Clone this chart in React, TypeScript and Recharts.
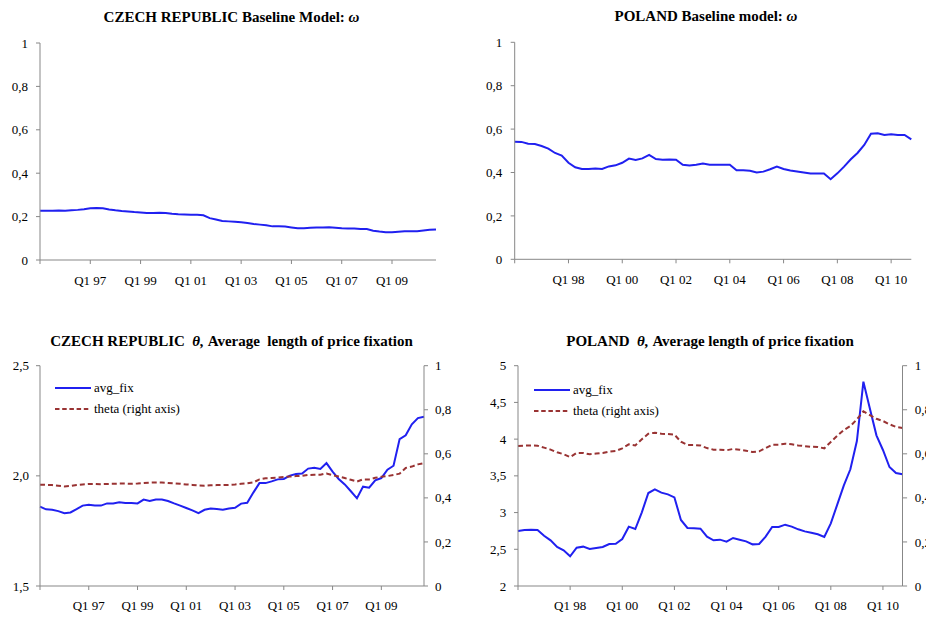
import React from 'react';
import { LineChart, Line, XAxis, YAxis } from 'recharts';

function makeQuarters(startYear: number, n: number): string[] {
  const out: string[] = [];
  for (let i = 0; i < n; i++) {
    const y = startYear + Math.floor(i / 4);
    out.push(`Q${(i % 4) + 1} ${String(y % 100).padStart(2, '0')}`);
  }
  return out;
}

// Categories
const czQuarters = makeQuarters(1995, 64); // Q1 95 .. Q4 10
const plQuarters = makeQuarters(1996, 60); // Q1 96 .. Q4 10
const tickIndexes = [0, 8, 16, 24, 32, 40, 48, 56];

// Czech Republic – baseline model omega
const czOmega = [
  0.227, 0.227, 0.227, 0.228, 0.227, 0.229, 0.231, 0.234, 0.238, 0.24,
  0.238, 0.233, 0.229, 0.226, 0.224, 0.221, 0.219, 0.217, 0.217, 0.218,
  0.217, 0.213, 0.211, 0.21, 0.209, 0.208, 0.206, 0.193, 0.187, 0.18,
  0.178, 0.176, 0.174, 0.17, 0.166, 0.163, 0.16, 0.155, 0.155, 0.154,
  0.15, 0.146, 0.146, 0.149, 0.15, 0.15, 0.151, 0.149, 0.146, 0.145,
  0.145, 0.143, 0.143, 0.135, 0.131, 0.128, 0.128, 0.13, 0.132, 0.132,
  0.133, 0.136, 0.139, 0.141,
];

// Poland – baseline model omega
const plOmega = [
  0.542, 0.541, 0.533, 0.531, 0.522, 0.51, 0.49, 0.478, 0.445, 0.424,
  0.416, 0.416, 0.418, 0.416, 0.428, 0.433, 0.445, 0.464, 0.458, 0.465,
  0.481, 0.462, 0.459, 0.46, 0.459, 0.436, 0.432, 0.436, 0.441, 0.436,
  0.436, 0.436, 0.436, 0.41, 0.41, 0.408, 0.4, 0.404, 0.415, 0.427,
  0.416, 0.409, 0.405, 0.4, 0.395, 0.395, 0.395, 0.369, 0.396, 0.427,
  0.461, 0.49, 0.527, 0.579, 0.581, 0.573, 0.576, 0.573, 0.573, 0.553,
];

// Czech Republic – avg_fix (left) and theta (right)
const czAvgFix = [
  1.86, 1.848, 1.846, 1.84, 1.83, 1.834, 1.849, 1.865, 1.869, 1.865,
  1.865, 1.875, 1.875, 1.88, 1.877, 1.877, 1.875, 1.892, 1.886, 1.893,
  1.893, 1.886, 1.875, 1.865, 1.854, 1.843, 1.831, 1.846, 1.852, 1.849,
  1.846, 1.852, 1.855, 1.874, 1.878, 1.924, 1.967, 1.967, 1.975, 1.984,
  1.986, 2.001, 2.008, 2.011, 2.033, 2.037, 2.031, 2.058, 2.019, 1.986,
  1.961, 1.93, 1.898, 1.951, 1.946, 1.98, 1.99, 2.028, 2.046, 2.167,
  2.184, 2.234, 2.262, 2.268,
];
const czTheta = [
  0.46, 0.459, 0.458, 0.455, 0.452, 0.454, 0.458, 0.461, 0.463, 0.463,
  0.462, 0.463, 0.464, 0.465, 0.465, 0.464, 0.465, 0.467, 0.469, 0.47,
  0.47, 0.468, 0.466, 0.464, 0.461, 0.459, 0.456, 0.455, 0.457, 0.458,
  0.458, 0.459, 0.461, 0.464, 0.466, 0.47, 0.484, 0.489, 0.49, 0.492,
  0.495, 0.497, 0.499, 0.5, 0.504, 0.505, 0.505, 0.511, 0.503, 0.497,
  0.49, 0.482, 0.474, 0.484, 0.484, 0.491, 0.496, 0.499, 0.504, 0.51,
  0.536, 0.542, 0.552, 0.558,
];

// Poland – avg_fix (left) and theta (right)
const plAvgFix = [
  2.749, 2.763, 2.767, 2.763, 2.685, 2.622, 2.531, 2.486, 2.404, 2.522,
  2.536, 2.504, 2.517, 2.531, 2.572, 2.576, 2.64, 2.808, 2.776, 3.003,
  3.266, 3.316, 3.271, 3.248, 3.207, 2.899, 2.79, 2.785, 2.781, 2.672,
  2.622, 2.631, 2.604, 2.654, 2.631, 2.608, 2.567, 2.572, 2.672, 2.803,
  2.803, 2.835, 2.808, 2.772, 2.744, 2.726, 2.704, 2.667, 2.853, 3.112,
  3.371, 3.589, 3.974, 4.782, 4.415, 4.052, 3.852, 3.62, 3.539, 3.521,
];
const plTheta = [
  0.635, 0.637, 0.638, 0.637, 0.628, 0.619, 0.607, 0.598, 0.585, 0.604,
  0.604, 0.598, 0.601, 0.604, 0.61, 0.613, 0.625, 0.643, 0.638, 0.666,
  0.691, 0.696, 0.691, 0.69, 0.687, 0.655, 0.64, 0.64, 0.638, 0.626,
  0.619, 0.619, 0.616, 0.622, 0.619, 0.614, 0.608, 0.611, 0.626, 0.641,
  0.641, 0.646, 0.643, 0.638, 0.635, 0.632, 0.631, 0.625, 0.654, 0.682,
  0.708, 0.726, 0.756, 0.793, 0.776, 0.759, 0.749, 0.734, 0.722, 0.717,
];

const ticks01 = [0, 0.2, 0.4, 0.6, 0.8, 1];
const czLeftTicks = [1.5, 2, 2.5];
const plLeftTicks = [2, 2.5, 3, 3.5, 4, 4.5, 5];

const czOmegaData = czQuarters.map((q, i) => ({ i, q, omega: czOmega[i] }));
const plOmegaData = plQuarters.map((q, i) => ({ i, q, omega: plOmega[i] }));
const czThetaData = czQuarters.map((q, i) => ({ i, q, avg_fix: czAvgFix[i], theta: czTheta[i] }));
const plThetaData = plQuarters.map((q, i) => ({ i, q, avg_fix: plAvgFix[i], theta: plTheta[i] }));

const FONT = '"Liberation Serif", "Times New Roman", serif';
const GRAY = '#878787';
const BLUE = '#2020f0';
const RED = '#993333';
const tickStyle = { fontSize: 13, fill: '#000', fontFamily: FONT };

const comma = (v: number) => String(v).replace('.', ',');
const comma1 = (v: number) => v.toFixed(1).replace('.', ',');

function Title({ cx, cy, children }: { cx: number; cy: number; children: React.ReactNode }) {
  return (
    <div
      style={{
        position: 'absolute',
        left: cx - 250,
        top: cy - 10,
        width: 500,
        height: 20,
        lineHeight: '20px',
        textAlign: 'center',
        fontFamily: FONT,
        fontWeight: 'bold',
        fontSize: 15,
        whiteSpace: 'pre',
        color: '#000',
      }}
    >
      {children}
    </div>
  );
}

function LegendBox({ x, y }: { x: number; y: number }) {
  const rows = [
    { label: 'avg_fix', color: BLUE, dash: undefined as string | undefined },
    { label: 'theta (right axis)', color: RED, dash: '4.5 2.7' },
  ];
  return (
    <div style={{ position: 'absolute', left: x, top: y, fontFamily: FONT, fontSize: 13 }}>
      {rows.map((r, k) => (
        <div key={k} style={{ display: 'flex', alignItems: 'center', height: 20.7 }}>
          <svg width={36} height={6} style={{ marginRight: 3 }}>
            <line x1={0} y1={3} x2={36} y2={3} stroke={r.color} strokeWidth={2} strokeDasharray={r.dash} />
          </svg>
          <span>{r.label}</span>
        </div>
      ))}
    </div>
  );
}

function App() {
  const n1 = czQuarters.length - 1;
  const n2 = plQuarters.length - 1;
  return (
    <div
      style={{
        position: 'absolute',
        left: 0,
        top: 0,
        width: 926,
        height: 617,
        overflow: 'hidden',
        background: '#fff',
        fontFamily: FONT,
      }}
    >
      {/* Panel 1: Czech omega */}
      <Title cx={231.5} cy={16.7}>
        CZECH REPUBLIC Baseline Model: <i>ω</i>
      </Title>
      <div style={{ position: 'absolute', left: 0, top: 0 }}>
        <LineChart width={463} height={300} data={czOmegaData} margin={{ top: 43, right: 27, bottom: 10, left: 0 }}>
          <XAxis
            dataKey="i"
            type="number"
            domain={[0, n1]}
            ticks={tickIndexes}
            interval={0}
            tickFormatter={(v: number) => (v === 0 ? '' : czQuarters[v])}
            height={30}
            tickSize={4}
            tickMargin={11.8}
            tick={tickStyle}
            stroke={GRAY}
          />
          <XAxis xAxisId="top" dataKey="i" type="number" domain={[0, n1]} orientation="top" height={0} tick={false} tickLine={false} stroke={GRAY} />
          <YAxis
            domain={[0, 1]}
            ticks={ticks01}
            interval={0}
            tickFormatter={comma}
            width={40}
            tickSize={4}
            tickMargin={8}
            tick={tickStyle}
            stroke={GRAY}
          />
          <YAxis yAxisId="r" orientation="right" domain={[0, 1]} width={0} tick={false} tickLine={false} stroke={GRAY} />
          <Line dataKey="omega" type="linear" stroke={BLUE} strokeWidth={2} dot={false} isAnimationActive={false} />
        </LineChart>
      </div>

      {/* Panel 2: Poland omega */}
      <Title cx={706} cy={15.7}>
        POLAND Baseline model: <i>ω</i>
      </Title>
      <div style={{ position: 'absolute', left: 463, top: 0 }}>
        <LineChart width={463} height={300} data={plOmegaData} margin={{ top: 42.3, right: 14.7, bottom: 10, left: 0 }}>
          <XAxis
            dataKey="i"
            type="number"
            domain={[0, n2]}
            ticks={tickIndexes}
            interval={0}
            tickFormatter={(v: number) => (v === 0 ? '' : plQuarters[v])}
            height={30.7}
            tickSize={4}
            tickMargin={11.8}
            tick={tickStyle}
            stroke={GRAY}
          />
          <XAxis xAxisId="top" dataKey="i" type="number" domain={[0, n2]} orientation="top" height={0} tick={false} tickLine={false} stroke={GRAY} />
          <YAxis
            domain={[0, 1]}
            ticks={ticks01}
            interval={0}
            tickFormatter={comma}
            width={51.7}
            tickSize={4}
            tickMargin={8.4}
            tick={tickStyle}
            stroke={GRAY}
          />
          <YAxis yAxisId="r" orientation="right" domain={[0, 1]} width={0} tick={false} tickLine={false} stroke={GRAY} />
          <Line dataKey="omega" type="linear" stroke={BLUE} strokeWidth={2} dot={false} isAnimationActive={false} />
        </LineChart>
      </div>

      {/* Panel 3: Czech theta */}
      <Title cx={231.5} cy={341}>
        {'CZECH REPUBLIC  '}
        <i>θ,</i>
        {' Average  length of price fixation'}
      </Title>
      <div style={{ position: 'absolute', left: 0, top: 320 }}>
        <LineChart width={463} height={297} data={czThetaData} margin={{ top: 45.7, right: 0, bottom: 1, left: 0 }}>
          <XAxis
            dataKey="i"
            type="number"
            domain={[0, n1]}
            ticks={tickIndexes}
            interval={0}
            tickFormatter={(v: number) => (v === 0 ? '' : czQuarters[v])}
            height={30}
            tickSize={4}
            tickMargin={10.8}
            tick={tickStyle}
            stroke={GRAY}
          />
          <XAxis xAxisId="top" dataKey="i" type="number" domain={[0, n1]} orientation="top" height={0} tick={false} tickLine={false} stroke={GRAY} />
          <YAxis
            yAxisId="l"
            domain={[1.5, 2.5]}
            ticks={czLeftTicks}
            interval={0}
            tickFormatter={comma1}
            width={40}
            tickSize={4}
            tickMargin={7}
            tick={tickStyle}
            stroke={GRAY}
          />
          <YAxis
            yAxisId="r"
            orientation="right"
            domain={[0, 1]}
            ticks={ticks01}
            interval={0}
            tickFormatter={comma}
            width={39}
            tickSize={4}
            tickMargin={7}
            tick={tickStyle}
            stroke={GRAY}
          />
          <Line yAxisId="l" dataKey="avg_fix" type="linear" stroke={BLUE} strokeWidth={2} dot={false} isAnimationActive={false} />
          <Line yAxisId="r" dataKey="theta" type="linear" stroke={RED} strokeWidth={2} strokeDasharray="5 3" dot={false} isAnimationActive={false} />
        </LineChart>
      </div>
      <LegendBox x={55} y={378} />

      {/* Panel 4: Poland theta */}
      <Title cx={710} cy={341}>
        {'POLAND  '}
        <i>θ,</i>
        {' Average length of price fixation'}
      </Title>
      <div style={{ position: 'absolute', left: 463, top: 320 }}>
        <LineChart width={500} height={297} data={plThetaData} margin={{ top: 45.7, right: 20.5, bottom: 1, left: 0 }}>
          <XAxis
            dataKey="i"
            type="number"
            domain={[0, n2]}
            ticks={tickIndexes}
            interval={0}
            tickFormatter={(v: number) => (v === 0 ? '' : plQuarters[v])}
            height={30}
            tickSize={4}
            tickMargin={10.8}
            tick={tickStyle}
            stroke={GRAY}
          />
          <XAxis xAxisId="top" dataKey="i" type="number" domain={[0, n2]} orientation="top" height={0} tick={false} tickLine={false} stroke={GRAY} />
          <YAxis
            yAxisId="l"
            domain={[2, 5]}
            ticks={plLeftTicks}
            interval={0}
            tickFormatter={comma}
            width={55}
            tickSize={4}
            tickMargin={7.7}
            tick={tickStyle}
            stroke={GRAY}
          />
          <YAxis
            yAxisId="r"
            orientation="right"
            domain={[0, 1]}
            ticks={ticks01}
            interval={0}
            tickFormatter={comma}
            width={40}
            tickSize={4.6}
            tickMargin={7.7}
            tick={tickStyle}
            stroke={GRAY}
          />
          <Line yAxisId="l" dataKey="avg_fix" type="linear" stroke={BLUE} strokeWidth={2} dot={false} isAnimationActive={false} />
          <Line yAxisId="r" dataKey="theta" type="linear" stroke={RED} strokeWidth={2} strokeDasharray="5 3" dot={false} isAnimationActive={false} />
        </LineChart>
      </div>
      <LegendBox x={534} y={380} />
    </div>
  );
}

export default App;
